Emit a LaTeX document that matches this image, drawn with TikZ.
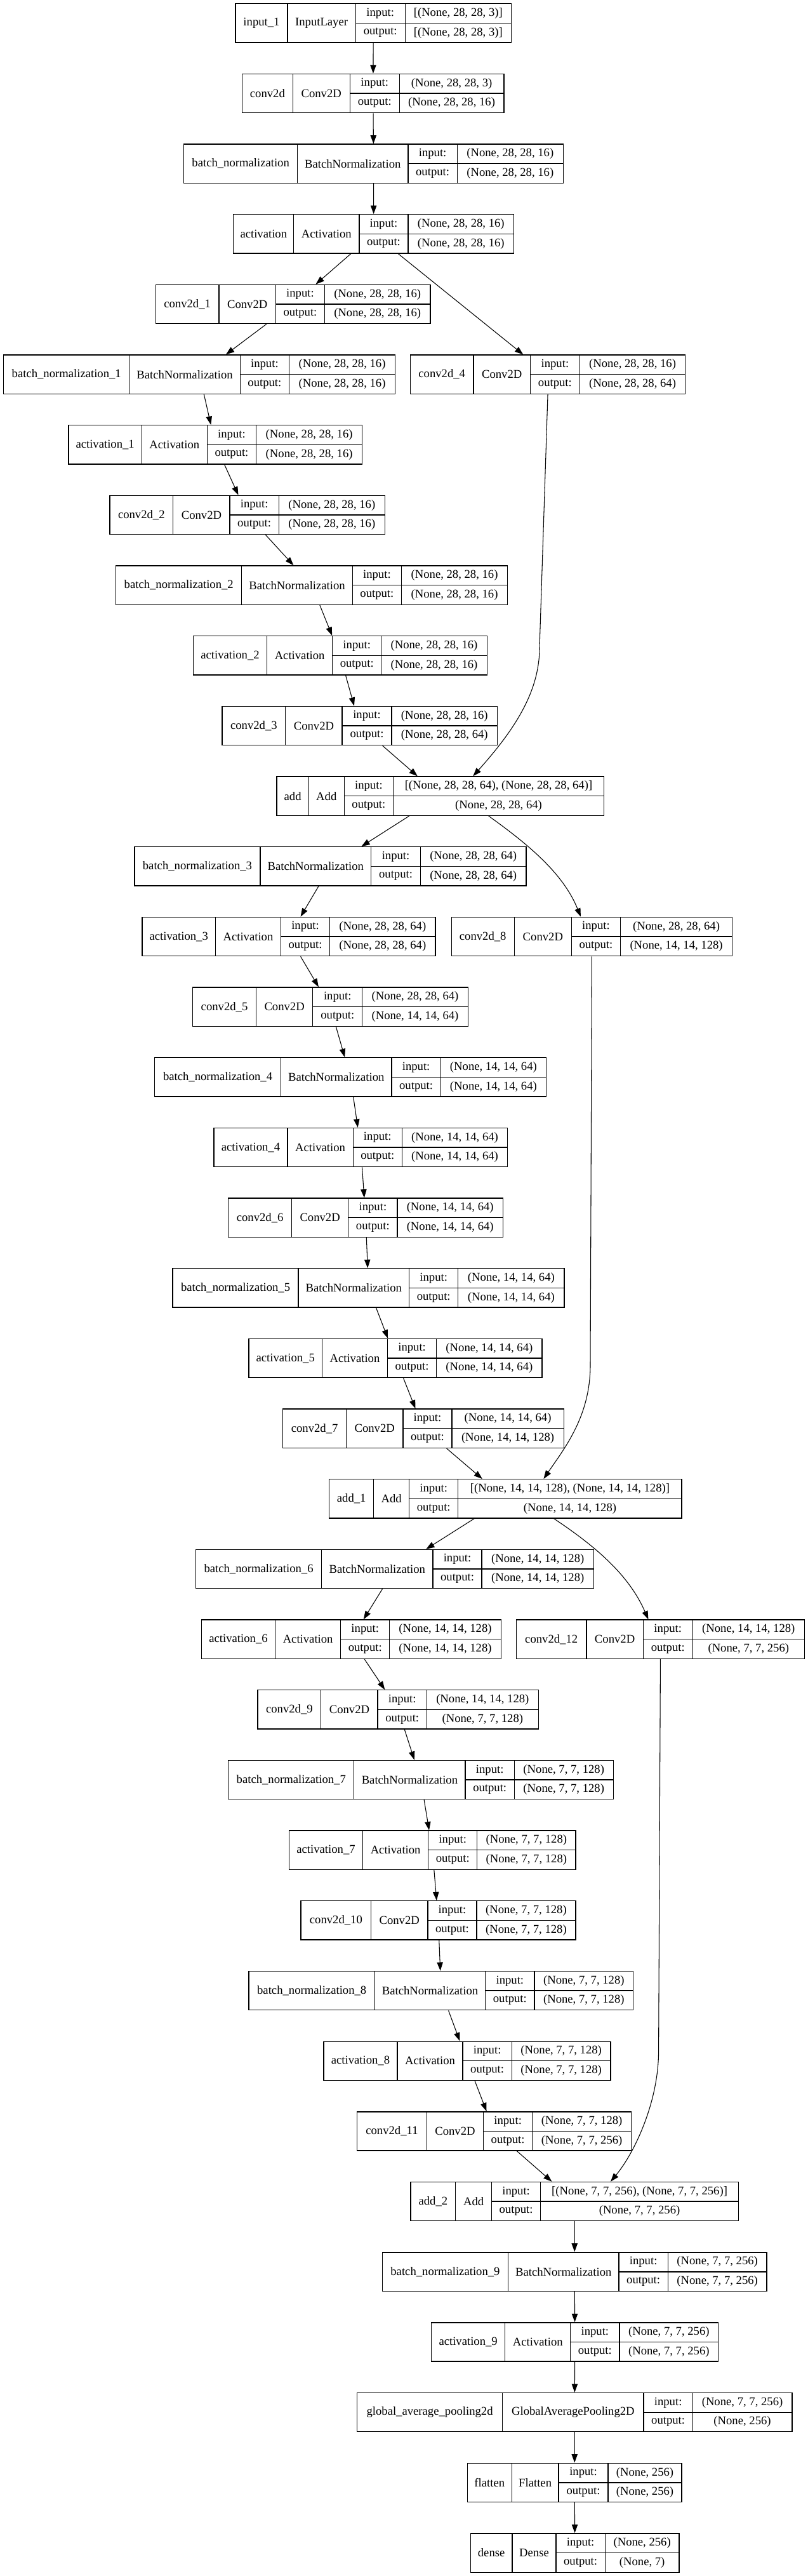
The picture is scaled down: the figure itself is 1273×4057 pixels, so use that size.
\documentclass[tikz,border=0pt]{standalone}
\usepackage{fontspec}
\setmainfont{Liberation Serif}
\usetikzlibrary{arrows.meta,calc}
\tikzset{
  box/.style={draw, line width=1pt, inner sep=0pt},
  cell/.style={line width=1pt},
  txt/.style={inner sep=0pt, font=\fontsize{14pt}{16pt}\selectfont},
  arr/.style={line width=0.8pt, -{Triangle[length=10pt,width=7pt]}},
}
\def\getxs#1,#2,#3,#4,#5\relax{\def\xa{#1}\def\xb{#2}\def\xc{#3}\def\xd{#4}\def\xe{#5}}
% #1 name, #2 rank, #3 x list, #4 layer name, #5 class, #6 input, #7 output
\newcommand{\klayer}[7]{%
  \pgfmathsetmacro{\yt}{5.7+110.67*#2}%
  \pgfmathsetmacro{\yb}{\yt+61.3}%
  \pgfmathsetmacro{\ym}{\yt+30.65}%
  \getxs#3\relax
  \pgfmathsetmacro{\lw}{(\xe-\xa)*0.75}%
  \node[box, minimum width=\lw pt, minimum height=45.975pt] (#1) at ({(\xa+\xe)/2},\ym) {};
  \draw[cell] (\xb,\yt) -- (\xb,\yb) (\xc,\yt) -- (\xc,\yb) (\xd,\yt) -- (\xd,\yb) (\xc,\ym) -- (\xe,\ym);
  \node[txt] (#1-name) at ({(\xa+\xb)/2},\ym) {#4};
  \node[txt] (#1-class) at ({(\xb+\xc)/2},\ym) {#5};
  \node[txt] (#1-inl) at ({(\xc+\xd)/2},{(\yt+\ym)/2}) {input:};
  \node[txt] (#1-outl) at ({(\xc+\xd)/2},{(\ym+\yb)/2}) {output:};
  \node[txt] (#1-in) at ({(\xd+\xe)/2},{(\yt+\ym)/2}) {#6};
  \node[txt] (#1-out) at ({(\xd+\xe)/2},{(\ym+\yb)/2}) {#7};
}
\begin{document}
\begin{tikzpicture}[x=0.75pt,y=-0.75pt]
\fill[white] (0,0) rectangle (1273,4057);
\useasboundingbox (0,0) rectangle (1273,4057);

\klayer{input1}{0}{371.0,453.0,560.2,638.2,805.4}{input\_1}{InputLayer}{[(None, 28, 28, 3)]}{[(None, 28, 28, 3)]}
\klayer{conv0}{1}{381.6,461.2,551.3,629.2,794.0}{conv2d}{Conv2D}{(None, 28, 28, 3)}{(None, 28, 28, 16)}
\klayer{bn0}{2}{289.8,468.5,643.0,720.2,887.4}{batch\_normalization}{BatchNormalization}{(None, 28, 28, 16)}{(None, 28, 28, 16)}
\klayer{act0}{3}{367.8,462.8,565.9,643.0,809.5}{activation}{Activation}{(None, 28, 28, 16)}{(None, 28, 28, 16)}
\klayer{conv1}{4}{245.2,345.1,434.4,511.5,677.9}{conv2d\_1}{Conv2D}{(None, 28, 28, 16)}{(None, 28, 28, 16)}
\klayer{bn1}{5}{5.7,203.8,378.3,455.5,622.7}{batch\_normalization\_1}{BatchNormalization}{(None, 28, 28, 16)}{(None, 28, 28, 16)}
\klayer{conv4}{5}{646.3,746.1,835.4,913.4,1079.8}{conv2d\_4}{Conv2D}{(None, 28, 28, 16)}{(None, 28, 28, 64)}
\klayer{act1}{6}{108.0,223.3,326.4,403.5,570.8}{activation\_1}{Activation}{(None, 28, 28, 16)}{(None, 28, 28, 16)}
\klayer{conv2}{7}{172.9,272.8,362.1,439.2,606.5}{conv2d\_2}{Conv2D}{(None, 28, 28, 16)}{(None, 28, 28, 16)}
\klayer{bn2}{8}{182.7,380.8,555.3,632.5,799.7}{batch\_normalization\_2}{BatchNormalization}{(None, 28, 28, 16)}{(None, 28, 28, 16)}
\klayer{act2}{9}{304.5,420.6,523.7,600.8,767.2}{activation\_2}{Activation}{(None, 28, 28, 16)}{(None, 28, 28, 16)}
\klayer{conv3}{10}{349.9,449.8,539.1,617.0,783.5}{conv2d\_3}{Conv2D}{(None, 28, 28, 16)}{(None, 28, 28, 64)}
\klayer{add0}{11}{436.0,486.3,542.3,619.5,951.5}{add}{Add}{[(None, 28, 28, 64), (None, 28, 28, 64)]}{(None, 28, 28, 64)}
\klayer{bn3}{12}{211.9,410.0,584.6,662.5,828.9}{batch\_normalization\_3}{BatchNormalization}{(None, 28, 28, 64)}{(None, 28, 28, 64)}
\klayer{act3}{13}{224.1,339.4,442.5,519.6,686.1}{activation\_3}{Activation}{(None, 28, 28, 64)}{(None, 28, 28, 64)}
\klayer{conv8}{13}{711.2,810.3,900.4,977.5,1153.7}{conv2d\_8}{Conv2D}{(None, 28, 28, 64)}{(None, 14, 14, 128)}
\klayer{conv5}{14}{303.6,403.5,492.8,570.8,737.2}{conv2d\_5}{Conv2D}{(None, 28, 28, 64)}{(None, 14, 14, 64)}
\klayer{bn4}{15}{243.6,442.5,617.0,694.2,860.6}{batch\_normalization\_4}{BatchNormalization}{(None, 14, 14, 64)}{(None, 14, 14, 64)}
\klayer{act4}{16}{336.9,453.0,556.2,633.3,799.7}{activation\_4}{Activation}{(None, 14, 14, 64)}{(None, 14, 14, 64)}
\klayer{conv6}{17}{359.7,459.5,548.8,626.0,792.4}{conv2d\_6}{Conv2D}{(None, 14, 14, 64)}{(None, 14, 14, 64)}
\klayer{bn5}{18}{272.0,470.1,644.6,721.8,889.0}{batch\_normalization\_5}{BatchNormalization}{(None, 14, 14, 64)}{(None, 14, 14, 64)}
\klayer{act5}{19}{392.1,507.4,610.5,687.7,854.1}{activation\_5}{Activation}{(None, 14, 14, 64)}{(None, 14, 14, 64)}
\klayer{conv7}{20}{445.7,545.6,634.9,712.0,888.2}{conv2d\_7}{Conv2D}{(None, 14, 14, 64)}{(None, 14, 14, 128)}
\klayer{add1}{21}{518.8,588.6,644.6,721.8,1074.1}{add\_1}{Add}{[(None, 14, 14, 128), (None, 14, 14, 128)]}{(None, 14, 14, 128)}
\klayer{bn6}{22}{308.5,506.6,682.0,759.1,935.3}{batch\_normalization\_6}{BatchNormalization}{(None, 14, 14, 128)}{(None, 14, 14, 128)}
\klayer{act6}{23}{317.5,433.6,536.7,613.8,789.2}{activation\_6}{Activation}{(None, 14, 14, 128)}{(None, 14, 14, 128)}
\klayer{conv12}{23}{813.5,923.9,1013.3,1091.2,1267.4}{conv2d\_12}{Conv2D}{(None, 14, 14, 128)}{(None, 7, 7, 256)}
\klayer{conv9}{24}{406.0,505.8,595.1,672.3,848.4}{conv2d\_9}{Conv2D}{(None, 14, 14, 128)}{(None, 7, 7, 128)}
\klayer{bn7}{25}{359.7,557.8,733.1,810.3,966.2}{batch\_normalization\_7}{BatchNormalization}{(None, 7, 7, 128)}{(None, 7, 7, 128)}
\klayer{act7}{26}{455.5,571.6,674.7,751.8,906.9}{activation\_7}{Activation}{(None, 7, 7, 128)}{(None, 7, 7, 128)}
\klayer{conv10}{27}{474.1,584.6,673.9,751.0,906.9}{conv2d\_10}{Conv2D}{(None, 7, 7, 128)}{(None, 7, 7, 128)}
\klayer{bn8}{28}{392.1,590.3,764.8,841.9,997.8}{batch\_normalization\_8}{BatchNormalization}{(None, 7, 7, 128)}{(None, 7, 7, 128)}
\klayer{act8}{29}{509.9,626.0,729.1,806.2,962.1}{activation\_8}{Activation}{(None, 7, 7, 128)}{(None, 7, 7, 128)}
\klayer{conv11}{30}{562.6,672.3,761.6,838.7,994.6}{conv2d\_11}{Conv2D}{(None, 7, 7, 128)}{(None, 7, 7, 256)}
\klayer{add2}{31}{647.1,717.7,774.5,851.7,1163.4}{add\_2}{Add}{[(None, 7, 7, 256), (None, 7, 7, 256)]}{(None, 7, 7, 256)}
\klayer{bn9}{32}{602.4,800.5,975.1,1052.2,1208.1}{batch\_normalization\_9}{BatchNormalization}{(None, 7, 7, 256)}{(None, 7, 7, 256)}
\klayer{act9}{33}{679.6,795.7,898.8,975.9,1131.8}{activation\_9}{Activation}{(None, 7, 7, 256)}{(None, 7, 7, 256)}
\klayer{gap}{34}{562.6,791.6,1014.1,1091.2,1247.9}{global\_average\_pooling2d}{GlobalAveragePooling2D}{(None, 7, 7, 256)}{(None, 256)}
\klayer{flat}{35}{736.4,806.2,880.1,958.0,1074.1}{flatten}{Flatten}{(None, 256)}{(None, 256)}
\klayer{dense}{36}{741.3,807.0,876.0,953.2,1070.1}{dense}{Dense}{(None, 256)}{(None, 7)}

% straight connectors
\foreach \a/\b in {input1/conv0, conv0/bn0, bn0/act0, act0/conv1, act0/conv4, conv1/bn1, bn1/act1,
  act1/conv2, conv2/bn2, bn2/act2, act2/conv3, conv3/add0, add0/bn3, bn3/act3, act3/conv5,
  conv5/bn4, bn4/act4, act4/conv6, conv6/bn5, bn5/act5, act5/conv7, conv7/add1, add1/bn6,
  bn6/act6, act6/conv9, conv9/bn7, bn7/act7, act7/conv10, conv10/bn8, bn8/act8, act8/conv11,
  conv11/add2, add2/bn9, bn9/act9, act9/gap, gap/flat, flat/dense}
  {\draw[arr] (\a) -- (\b);}

% skip connections
\draw[arr] (conv4.south) -- (850,1020) .. controls (850,1090) and (810,1150) .. ($(add0.north)+(51.5,0)$);
\draw[arr] ($(add0.south)+(76,0)$) .. controls (831.4,1329.3) and (887,1374.7) .. ($(conv8.north)+(-17.5,0)$);
\draw[arr] (conv8.south) -- (930,2150) .. controls (930,2230) and (890,2280) .. ($(add1.north)+(60,0)$);
\draw[arr] ($(add1.south)+(76.3,0)$) .. controls (940.3,2436.7) and (991.3,2481.3) .. ($(conv12.north)+(-19,0)$);
\draw[arr] (conv12.south) -- (1037.6,3230) .. controls (1037.6,3310) and (1000,3390) .. ($(add2.north)+(56.8,0)$);
\end{tikzpicture}
\end{document}
